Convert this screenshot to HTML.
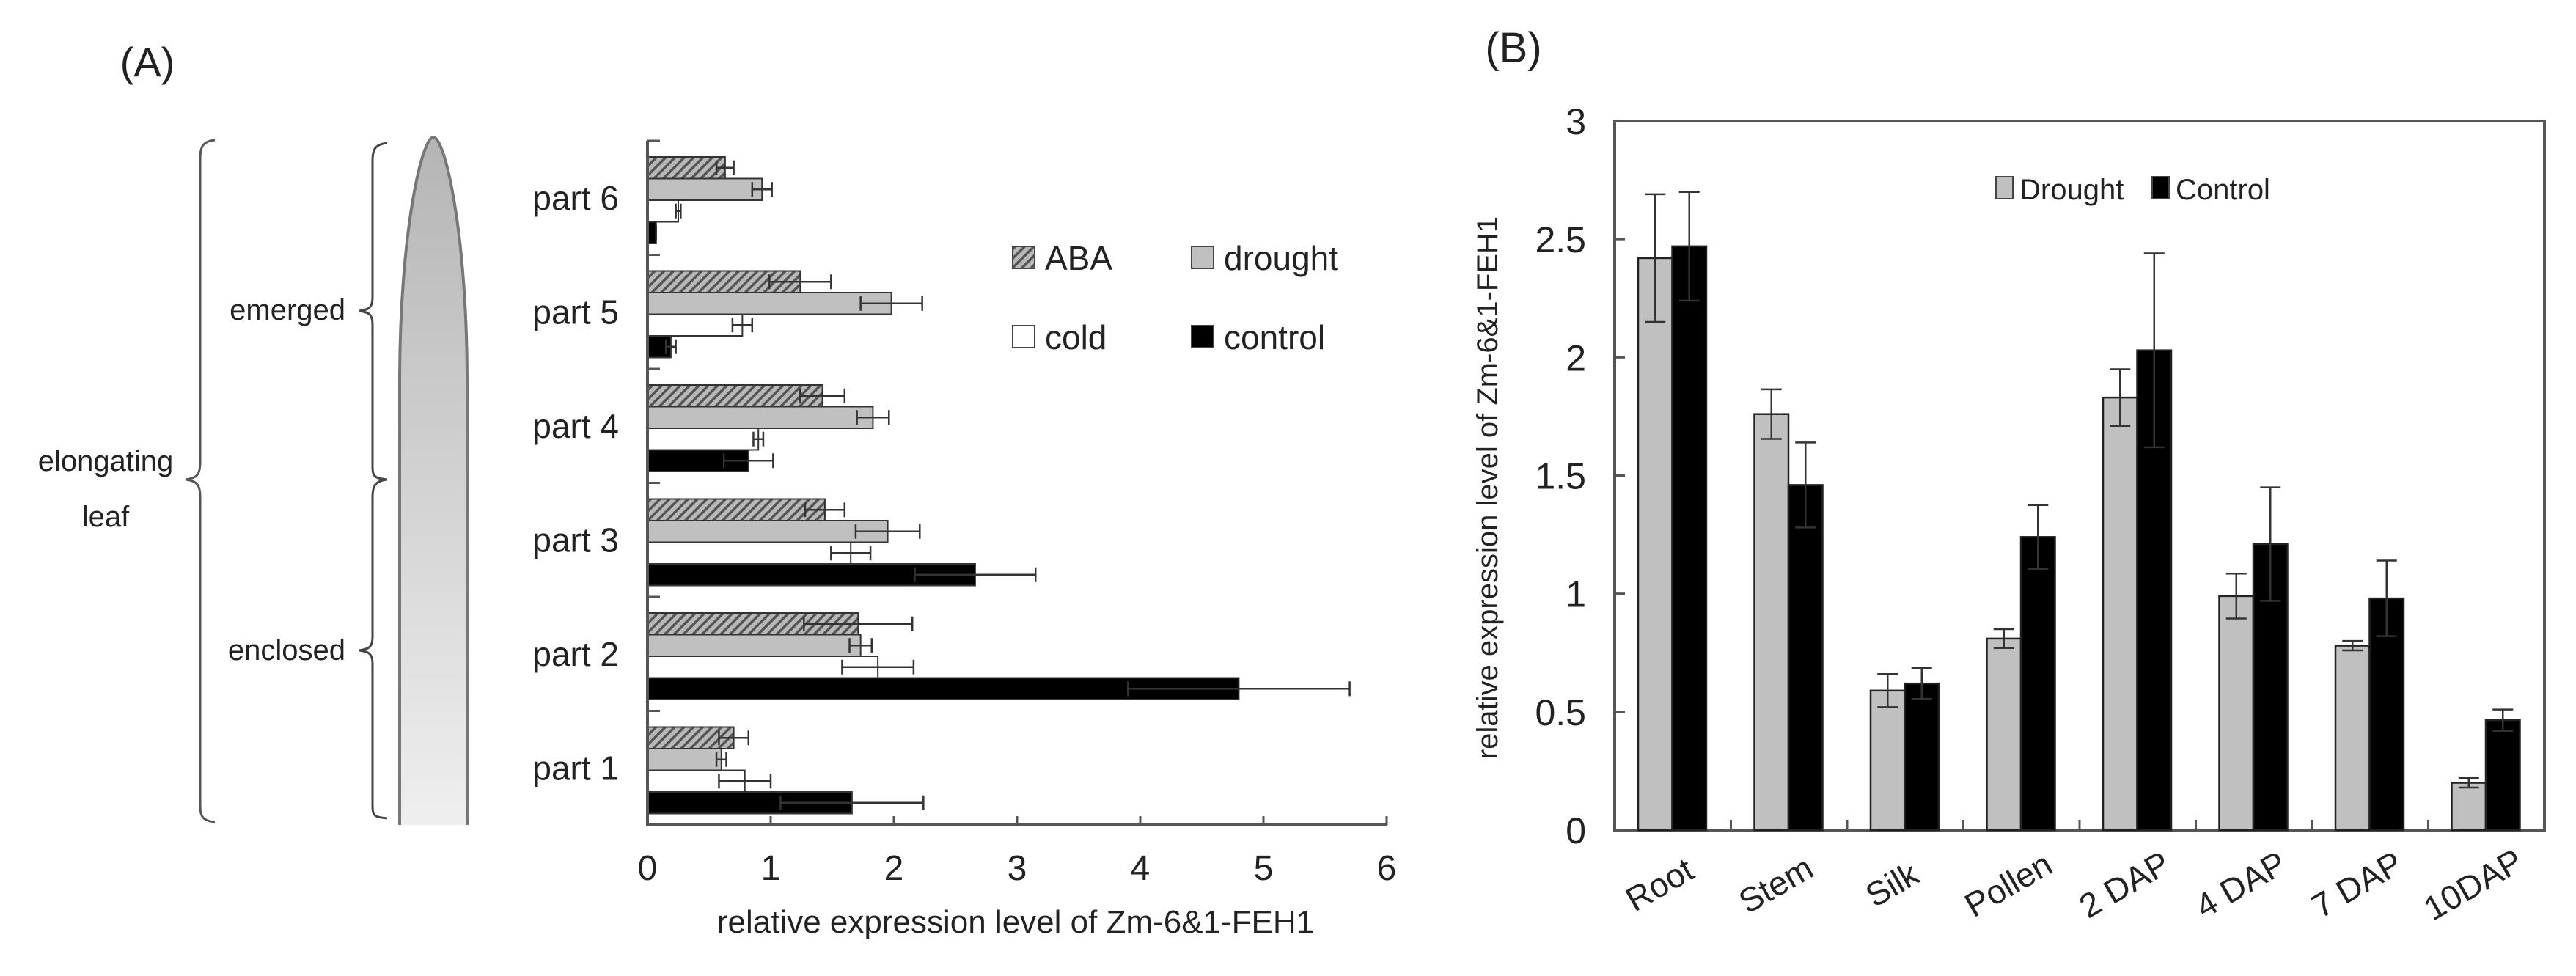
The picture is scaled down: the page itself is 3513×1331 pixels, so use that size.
<!DOCTYPE html>
<html><head><meta charset="utf-8"><style>
html,body{margin:0;padding:0;background:#fff;}
svg{display:block;font-family:"Liberation Sans",sans-serif;}
</style></head><body>
<svg id="fig" width="3513" height="1331" viewBox="0 0 3513 1331" xmlns="http://www.w3.org/2000/svg">
<defs>
<pattern id="hatch" patternUnits="userSpaceOnUse" width="9" height="9" patternTransform="rotate(45)">
<rect width="9" height="9" fill="#b8b8b8"/><rect width="3.5" height="9" fill="#555"/>
</pattern>
<linearGradient id="leafgrad" x1="0" y1="0" x2="0" y2="1">
<stop offset="0" stop-color="#b5b5b5"/><stop offset="1" stop-color="#efefef"/>
</linearGradient>
</defs>
<g>
<text x="201" y="104" font-size="56" text-anchor="middle" fill="#222">(A)</text>
<path d="M293,191 C272,193 273,205 273,225 L273,630 C273,648 268,652 253,654 C268,656 273,660 273,678 L273,1090 C273,1110 272,1119 293,1121" fill="none" stroke="#555" stroke-width="3"/>
<text x="144" y="642" font-size="40" text-anchor="middle" fill="#222">elongating</text>
<text x="144" y="718" font-size="40" text-anchor="middle" fill="#222">leaf</text>
<path d="M528,195 C510,197 508,205 508,220 L508,405 C508,420 503,422 490,424 C503,426 508,428 508,443 L508,635 C508,650 510,652 528,654" fill="none" stroke="#444" stroke-width="3"/>
<path d="M528,654 C510,656 508,664 508,679 L508,868 C508,883 503,885 490,887 C503,889 508,891 508,906 L508,1098 C508,1113 510,1114 528,1116" fill="none" stroke="#444" stroke-width="3"/>
<text x="471" y="436" font-size="40" text-anchor="end" fill="#222">emerged</text>
<text x="471" y="900" font-size="40" text-anchor="end" fill="#222">enclosed</text>
<path d="M545,1125 L545,520 C545,320 575,187 591,187 C607,187 637,320 637,520 L637,1125" fill="url(#leafgrad)" stroke="#777" stroke-width="4"/>
<g id="chartA"></g>
</g>
<g>
<text x="2064" y="85" font-size="58" text-anchor="middle" fill="#222">(B)</text>
<g id="chartB"></g>
</g>
</svg>
<script>
// ---- Chart A data ----
const partsA = ["part 6","part 5","part 4","part 3","part 2","part 1"];
const seriesA = ["ABA","drought","cold","control"];
const abaVals = [0.63,1.24,1.42,1.44,1.71,0.70];
const abaErr = [0.07,0.25,0.18,0.16,0.44,0.12];
const droughtVals = [0.93,1.98,1.83,1.95,1.73,0.60];
const droughtErr = [0.08,0.25,0.13,0.26,0.09,0.04];
const coldVals = [0.25,0.77,0.90,1.65,1.87,0.79];
const coldErr = [0.02,0.08,0.04,0.16,0.29,0.21];
const controlVals = [0.07,0.19,0.82,2.66,4.80,1.66];
const controlErr = [0.00,0.04,0.20,0.49,0.90,0.58];
const ticksA = [0,1,2,3,4,5,6];

// ---- Chart B data ----
const tissuesB = ["Root","Stem","Silk","Pollen","2 DAP","4 DAP","7 DAP","10DAP"];
const droughtB = [2.42,1.76,0.59,0.81,1.83,0.99,0.78,0.20];
const droughtBErr = [0.27,0.105,0.07,0.04,0.12,0.095,0.02,0.02];
const controlB = [2.47,1.46,0.62,1.24,2.03,1.21,0.98,0.465];
const controlBErr = [0.23,0.18,0.065,0.135,0.41,0.24,0.16,0.045];
const ticksB = [0,0.5,1,1.5,2,2.5,3];
const tickLabelsB = ["0","0.5","1","1.5","2","2.5","3"];

const NS="http://www.w3.org/2000/svg";
function mk(parent,tag,attrs,text){const e=document.createElementNS(NS,tag);for(const k in attrs)e.setAttribute(k,attrs[k]);if(text!==undefined)e.textContent=text;parent.appendChild(e);return e;}

// ===== Chart A =====
(function(){
const g=document.getElementById('chartA');
const X0=883,X1=1891,Y0=192,Y1=1125;
const xs=v=>X0+(v-0)/(6-0)*(X1-X0);
const band=(Y1-Y0)/partsA.length;
const barH=29.5, off=22;
const vals=[abaVals,droughtVals,coldVals,controlVals];
const errs=[abaErr,droughtErr,coldErr,controlErr];
const fills=["url(#hatch)","#c0c0c0","#ffffff","#000000"];
partsA.forEach((p,i)=>{
  const top=Y0+i*band;
  const lbl=mk(g,'text',{x:844,y:top+band/2+16,'font-size':46,'text-anchor':'end',fill:'#222'},p);
  
  
  for(let s=0;s<4;s++){
    const y=top+off+s*barH, v=vals[s][i], e=errs[s][i];
    const r=mk(g,'rect',{x:X0,y:y,width:xs(v)-X0,height:barH,fill:fills[s],stroke:'#333','stroke-width':2});
    
    
    const cy=y+barH/2;
    const eb=mk(g,'path',{d:`M${xs(v-e)},${cy}H${xs(v+e)}M${xs(v-e)},${cy-10}V${cy+10}M${xs(v+e)},${cy-10}V${cy+10}`,stroke:'#333','stroke-width':2.5,fill:'none'});
    
    
  }
});
const ax=mk(g,'path',{d:`M${X0},${Y0}V${Y1}H${X1}`,stroke:'#555','stroke-width':4,fill:'none'});


for(let i=0;i<=partsA.length;i++){
  const y=Y0+i*band;
  mk(g,'line',{x1:X0,x2:X0+17,y1:y,y2:y,stroke:'#555','stroke-width':3});
}
ticksA.forEach(t=>{
  mk(g,'line',{x1:xs(t),x2:xs(t),y1:Y1,y2:Y1-12,stroke:'#555','stroke-width':3});
  const tl=mk(g,'text',{x:xs(t),y:1200,'font-size':48,'text-anchor':'middle',fill:'#222'},String(t));
  
  
});
const tt=mk(g,'text',{x:1385,y:1272,'font-size':44,'text-anchor':'middle',fill:'#222'},'relative expression level of Zm-6&1-FEH1');


const leg=[[1381,352,'url(#hatch)','ABA'],[1625,352,'#c0c0c0','drought'],[1381,460,'#fff','cold'],[1625,460,'#000','control']];
leg.forEach(l=>{
  const sw=mk(g,'rect',{x:l[0],y:l[1]-16,width:30,height:30,fill:l[2],stroke:'#444','stroke-width':2});
  
  
  const lt=mk(g,'text',{x:l[0]+44,y:l[1]+16,'font-size':46,fill:'#222'},l[3]);
  
  
});
})();

// ===== Chart B =====
(function(){
const g=document.getElementById('chartB');
const X0=2202,X1=3470,Y0=1132,YT=165;
const ys=v=>Y0-(v-0)/(3-0)*(Y0-YT);
const band=(X1-X0)/tissuesB.length;
const bw=46.5, off=32;
const box=mk(g,'rect',{x:X0,y:YT,width:X1-X0,height:Y0-YT,fill:'none',stroke:'#555','stroke-width':4});


tissuesB.forEach((t,i)=>{
  const left=X0+i*band+off;
  [[droughtB,droughtBErr,'#c0c0c0','drought'],[controlB,controlBErr,'#000','control']].forEach((s,k)=>{
    const x=left+k*bw, v=s[0][i], e=s[1][i];
    const r=mk(g,'rect',{x:x,y:ys(v),width:bw,height:Y0-ys(v),fill:s[2],stroke:'#222','stroke-width':2.5});
    
    
    const cx=x+bw/2;
    const eb=mk(g,'path',{d:`M${cx},${ys(v-e)}V${ys(v+e)}M${cx-14},${ys(v+e)}H${cx+14}M${cx-14},${ys(v-e)}H${cx+14}`,stroke:'#333','stroke-width':2.5,fill:'none'});
    
    
  });
  if(i>0) mk(g,'line',{x1:X0+i*band,x2:X0+i*band,y1:Y0,y2:Y0-14,stroke:'#555','stroke-width':3});
  const cx=X0+i*band+band/2-10, cy=1220;
  const lab=mk(g,'text',{x:cx,y:cy,'font-size':46,'text-anchor':'middle',fill:'#222',transform:`rotate(-30 ${cx} ${cy})`},t);
  
  
});
ticksB.forEach((t,i)=>{
  if(t>0&&t<3) mk(g,'line',{x1:X0,x2:X0+14,y1:ys(t),y2:ys(t),stroke:'#555','stroke-width':3});
  const tl=mk(g,'text',{x:2163,y:ys(t)+18,'font-size':50,'text-anchor':'end',fill:'#222'},tickLabelsB[i]);
  
  
});
const yt=mk(g,'text',{x:2042,y:665,'font-size':40,'text-anchor':'middle',fill:'#222',transform:'rotate(-90 2042 665)'},'relative expression level of Zm-6&1-FEH1');


[[2722,'#c0c0c0','Drought'],[2935,'#000','Control']].forEach(l=>{
  const sw=mk(g,'rect',{x:l[0],y:241,width:23,height:30,fill:l[1],stroke:'#444','stroke-width':2});
  
  
  const lt=mk(g,'text',{x:l[0]+32,y:272,'font-size':40,fill:'#222'},l[2]);
  
  
});
})();
</script>
</body></html>
